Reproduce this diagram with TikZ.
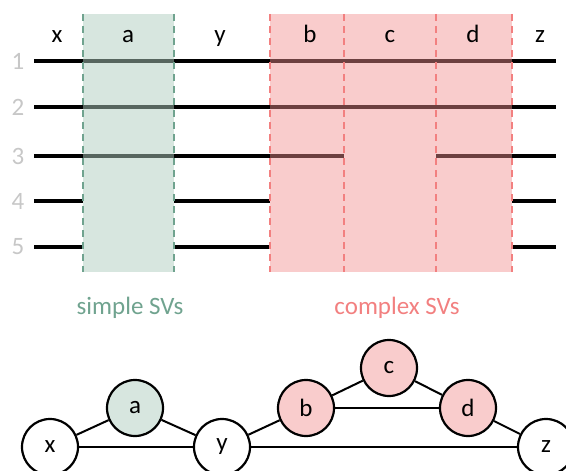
\documentclass[tikz,border=0pt]{standalone}
\usepackage{fontspec}
\setmainfont{Carlito}
\usetikzlibrary{positioning}

\definecolor{simplefill}{RGB}{175,205,191}
\definecolor{simpleline}{RGB}{112,163,143}
\definecolor{simplenode}{RGB}{215,230,223}
\definecolor{complexfill}{RGB}{242,142,142}
\definecolor{complexline}{RGB}{242,128,128}
\definecolor{complexnode}{RGB}{249,204,204}

\begin{document}
\begin{tikzpicture}[
    x=0.5pt, y=-0.5pt,
    font=\fontsize{12.5}{15}\selectfont,
    read/.style={line width=2pt, black},
    rownum/.style={text=black!22},
    collabel/.style={anchor=base},
    svborder/.style={dash pattern=on 3.5pt off 2.5pt, line width=1pt},
    sv/.style={draw, circle, line width=1.1pt, minimum size=28pt, inner sep=0pt, fill=white},
    edge/.style={line width=1pt}
]
\useasboundingbox (0,0) rectangle (566,470);

% Reads
\foreach \r/\yy in {1/61, 2/107, 3/156, 4/201, 5/247}
    \node[rownum] (row\r) at (18,\yy) {\r};
\foreach \yy in {61, 107}
    \draw[read] (34,\yy) -- (556,\yy);
\draw[read] (34,156) -- (344,156);
\draw[read] (436,156) -- (556,156);
\foreach \yy in {201, 247} {
    \draw[read] (34,\yy) -- (83,\yy);
    \draw[read] (174,\yy) -- (270,\yy);
    \draw[read] (512,\yy) -- (556,\yy);
}

% SV regions
\fill[simplefill, fill opacity=0.5] (83,14) rectangle (174,272);
\fill[complexfill, fill opacity=0.45] (270,14) rectangle (512,272);
\foreach \xx in {83, 174}
    \draw[svborder, simpleline] (\xx,14) -- (\xx,272);
\foreach \xx in {270, 344, 436, 512}
    \draw[svborder, complexline] (\xx,14) -- (\xx,272);

\foreach \t/\xx in {x/57, a/128, y/220, b/310, c/390, d/473, z/540}
    \node[collabel] (col\t) at (\xx,43) {\t};

\node[collabel, text=simpleline] (simple) at (130,314) {simple SVs};
\node[collabel, text=complexline] (complex) at (397,314) {complex SVs};

% Nodes
\node[sv] (x) at (50,447) {x};
\node[sv, fill=simplenode] (a) at (135,408) {a};
\node[sv] (y) at (222,447) {y};
\node[sv, fill=complexnode] (b) at (306,408) {b};
\node[sv, fill=complexnode] (c) at (389,368) {c};
\node[sv, fill=complexnode] (d) at (468,408) {d};
\node[sv] (z) at (546,447) {z};

% Edges
\draw[edge] (x) -- (a);
\draw[edge] (a) -- (y);
\draw[edge] (x) -- (y);
\draw[edge] (y) -- (b);
\draw[edge] (b) -- (c);
\draw[edge] (c) -- (d);
\draw[edge] (b) -- (d);
\draw[edge] (d) -- (z);
\draw[edge] (y) -- (z);
\end{tikzpicture}
\end{document}
